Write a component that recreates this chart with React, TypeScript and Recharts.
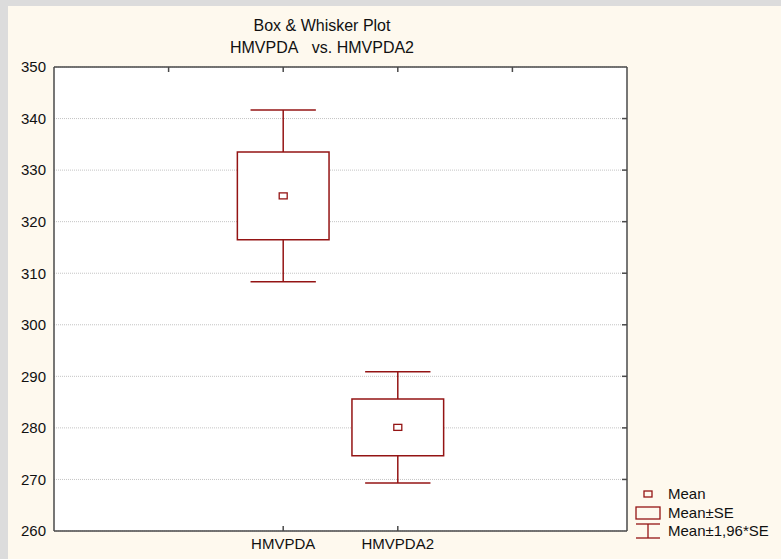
import React from "react";
import {
  ComposedChart,
  XAxis,
  YAxis,
  CartesianGrid,
  Scatter,
  ReferenceArea,
  ReferenceLine,
} from "recharts";

// group names and where they sit on the 0..5 x range
const categories = ["HMVPDA", "HMVPDA2"];
const positions = [2, 3];
// mean and standard error per group
const means = [325.0, 280.1];
const stdErrs = [8.5, 5.5];
const yTicks = [260, 270, 280, 290, 300, 310, 320, 330, 340, 350];
const topTicks = [1, 2, 3, 4];

const RED = "#941414";
const AXIS = "#4a4a4a";
const FONT = "'Liberation Sans', Arial, sans-serif";
const Z = 1.96;
const BOX_HALF = 0.4;
const CAP_HALF = 0.285;

const rows = categories.map((name, i) => ({
  x: positions[i],
  name,
  mean: means[i],
  se: stdErrs[i],
}));

// inward tick marks on the top and right edges of the frame
const TopTick = (props: any) => {
  const { x1, y1, y2 } = props;
  const top = Math.min(y1, y2);
  return <line x1={x1} x2={x1} y1={top} y2={top + 5} stroke={AXIS} strokeWidth={1.5} />;
};

const RightTick = (props: any) => {
  const { x1, x2, y1 } = props;
  const right = Math.max(x1, x2);
  return <line x1={right - 5} x2={right} y1={y1} y2={y1} stroke={AXIS} strokeWidth={1.5} />;
};

const CategoryTick = (props: any) => {
  const { x, y, payload } = props;
  const idx = positions.indexOf(payload.value);
  return (
    <g>
      <line x1={x} x2={x} y1={y - 5} y2={y} stroke={AXIS} strokeWidth={1.5} />
      <text x={x} y={y + 18} textAnchor="middle" fontSize={15} fill="#111" fontFamily={FONT}>
        {categories[idx]}
      </text>
    </g>
  );
};

const MeanMarker = (props: any) => {
  const { cx, cy } = props;
  return <rect x={cx - 4} y={cy - 3} width={8} height={6} fill="#fff" stroke={RED} strokeWidth={1.3} />;
};

export default function App() {
  return (
    <div style={{ position: "relative", width: 781, height: 559, background: "#dcdcdc", fontFamily: FONT }}>
      <style>{"body{margin:0}"}</style>
      <div style={{ position: "absolute", left: 8, top: 6, width: 773, height: 553, background: "#fef9ee" }}>
        <div style={{ position: "absolute", left: 0, width: 628, top: 9, textAlign: "center", fontSize: 16, lineHeight: "22px", color: "#111" }}>
          <div>Box &amp; Whisker Plot</div>
          <div>HMVPDA&nbsp;&nbsp;&nbsp;vs. HMVPDA2</div>
        </div>
        <ComposedChart width={773} height={553} data={rows} margin={{ top: 60, right: 153, bottom: 0, left: 0 }}>
          <CartesianGrid vertical={false} stroke="#c4c4c4" strokeDasharray="1 1" fill="#fff" fillOpacity={1} />
          <XAxis
            dataKey="x"
            type="number"
            domain={[0, 5]}
            ticks={positions}
            height={28}
            tickSize={0}
            tickMargin={0}
            tickLine={false}
            axisLine={{ stroke: AXIS, strokeWidth: 1.5 }}
            tick={<CategoryTick />}
          />
          <XAxis
            xAxisId="top"
            orientation="top"
            type="number"
            domain={[0, 5]}
            height={1}
            tick={false}
            tickLine={false}
            axisLine={{ stroke: AXIS, strokeWidth: 1.5 }}
          />
          <YAxis
            type="number"
            domain={[260, 350]}
            ticks={yTicks}
            width={46}
            tickLine={false}
            tickSize={5}
            tickMargin={3}
            axisLine={{ stroke: AXIS, strokeWidth: 1.5 }}
            tick={{ fontSize: 15, fill: "#111", fontFamily: FONT }}
          />
          <YAxis
            yAxisId="right"
            orientation="right"
            type="number"
            domain={[260, 350]}
            width={1}
            tick={false}
            tickLine={false}
            axisLine={{ stroke: AXIS, strokeWidth: 1.5 }}
          />
          {topTicks.map((t) => (
            <ReferenceLine key={`tt-${t}`} x={t} shape={TopTick} />
          ))}
          {yTicks.slice(1, -1).map((t) => (
            <ReferenceLine key={`rt-${t}`} y={t} shape={RightTick} />
          ))}
          {rows.map((r) => (
            <ReferenceLine
              key={`up-${r.name}`}
              segment={[{ x: r.x, y: r.mean + r.se }, { x: r.x, y: r.mean + Z * r.se }]}
              stroke={RED}
              strokeWidth={1.5}
            />
          ))}
          {rows.map((r) => (
            <ReferenceLine
              key={`dn-${r.name}`}
              segment={[{ x: r.x, y: r.mean - r.se }, { x: r.x, y: r.mean - Z * r.se }]}
              stroke={RED}
              strokeWidth={1.5}
            />
          ))}
          {rows.map((r) => (
            <ReferenceLine
              key={`capu-${r.name}`}
              segment={[{ x: r.x - CAP_HALF, y: r.mean + Z * r.se }, { x: r.x + CAP_HALF, y: r.mean + Z * r.se }]}
              stroke={RED}
              strokeWidth={1.5}
            />
          ))}
          {rows.map((r) => (
            <ReferenceLine
              key={`capd-${r.name}`}
              segment={[{ x: r.x - CAP_HALF, y: r.mean - Z * r.se }, { x: r.x + CAP_HALF, y: r.mean - Z * r.se }]}
              stroke={RED}
              strokeWidth={1.5}
            />
          ))}
          {rows.map((r) => (
            <ReferenceArea
              key={`box-${r.name}`}
              x1={r.x - BOX_HALF}
              x2={r.x + BOX_HALF}
              y1={r.mean - r.se}
              y2={r.mean + r.se}
              fill="#fff"
              fillOpacity={1}
              stroke={RED}
              strokeWidth={1.5}
            />
          ))}
          <Scatter dataKey="mean" shape={<MeanMarker />} isAnimationActive={false} />
        </ComposedChart>
        <div style={{ position: "absolute", left: 626, top: 479, fontSize: 15, color: "#111", lineHeight: "18.5px" }}>
          <div style={{ display: "flex", alignItems: "center" }}>
            <svg width={34} height={18}>
              <rect x={10} y={6} width={8} height={6} fill="none" stroke={RED} strokeWidth={1.3} />
            </svg>
            <span>Mean</span>
          </div>
          <div style={{ display: "flex", alignItems: "center" }}>
            <svg width={34} height={18}>
              <rect x={2} y={3} width={24} height={12} fill="none" stroke={RED} strokeWidth={1.3} />
            </svg>
            <span>Mean±SE</span>
          </div>
          <div style={{ display: "flex", alignItems: "center" }}>
            <svg width={34} height={18}>
              <line x1={2} x2={26} y1={2} y2={2} stroke={RED} strokeWidth={1.3} />
              <line x1={14} x2={14} y1={2} y2={16} stroke={RED} strokeWidth={1.3} />
              <line x1={2} x2={26} y1={16} y2={16} stroke={RED} strokeWidth={1.3} />
            </svg>
            <span>Mean±1,96*SE</span>
          </div>
        </div>
      </div>
    </div>
  );
}
